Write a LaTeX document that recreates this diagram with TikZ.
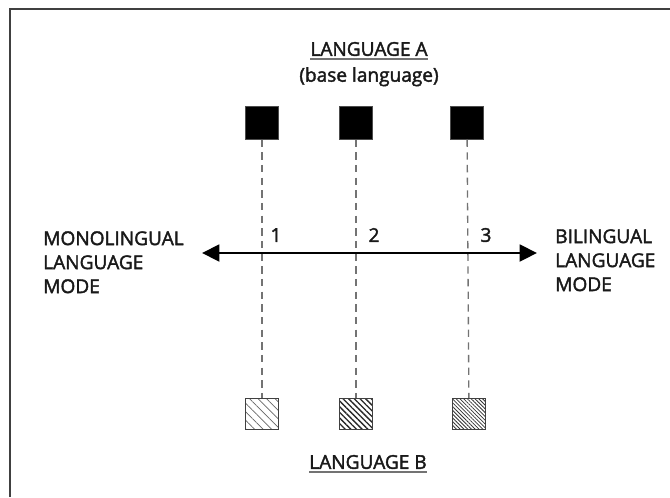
\documentclass[tikz,border=0pt]{standalone}
\usepackage{fontspec}
\setmainfont{Open Sans}
\newfontfamily\lblfont{Open Sans}[FakeBold=2]
\usetikzlibrary{positioning,calc,arrows.meta,patterns.meta}

\begin{document}
\begin{tikzpicture}[x=0.75pt,y=-0.75pt,
    blk/.style={rectangle,fill=black,draw=black!70,inner sep=0pt,minimum size=24.5pt},
    hatch/.style={rectangle,draw=black!75,line width=0.8pt,inner sep=0pt,minimum width=25pt,minimum height=23.5pt},
    lnk/.style={draw=black!55,line width=1pt,dash pattern=on 5.5pt off 4pt},
    lbl/.style={font=\lblfont\fontsize{14.3}{18}\selectfont,text=black!90,inner sep=0pt},
    ul/.style={draw=black!55,line width=1.3pt},
    side/.style={lbl,align=left,anchor=north west}]
  \useasboundingbox (0,0) rectangle (670,497);
  \draw[black!75,line width=1.8pt] (10,497) |- (670,9);
  % language A
  \path (262,123) node (a1) [blk] {}
        (356,123) node (a2) [blk] {}
        (467,123) node (a3) [blk] {};
  % language B
  \path (262,414) node (b1) [hatch,pattern={Lines[angle=-45,distance=4.5pt,line width=0.5pt]},pattern color=black!60] {}
        (356,414) node (b2) [hatch,pattern={Lines[angle=-45,distance=3pt,line width=1pt]},pattern color=black!85] {}
        (469,414) node (b3) [hatch,pattern={Lines[angle=-45,distance=2pt,line width=0.6pt]},pattern color=black!80] {};
  \foreach \i in {1,2,3}
    \draw[lnk] (a\i) -- (b\i);
  % continuum
  \coordinate (mono) at (202,253);
  \coordinate (bili) at (537,253);
  \draw[line width=2.2pt,{Triangle[length=13pt,width=12.5pt]}-{Triangle[length=13pt,width=12.5pt]}] (mono) -- (bili);
  \node[lbl] (n1) at (276,235) {1};
  \node[lbl] (n2) at (374,235) {2};
  \node[lbl] (n3) at (486,235) {3};
  % labels
  \node[lbl] (la) at (369,49) {LANGUAGE A};
  \draw[ul] ($(la.south west)+(0,3)$) -- ($(la.south east)+(0,3)$);
  \node[lbl] (base) [below=8pt of la] {(base language)};
  \node[lbl] (lb) at (368,462) {LANGUAGE B};
  \draw[ul] ($(lb.south west)+(0,3)$) -- ($(lb.south east)+(0,3)$);
  \node[side] (monolbl) at (43,231) {MONOLINGUAL\\LANGUAGE\\MODE};
  \node[side] (bililbl) at (555,229) {BILINGUAL\\LANGUAGE\\MODE};
\end{tikzpicture}
\end{document}
